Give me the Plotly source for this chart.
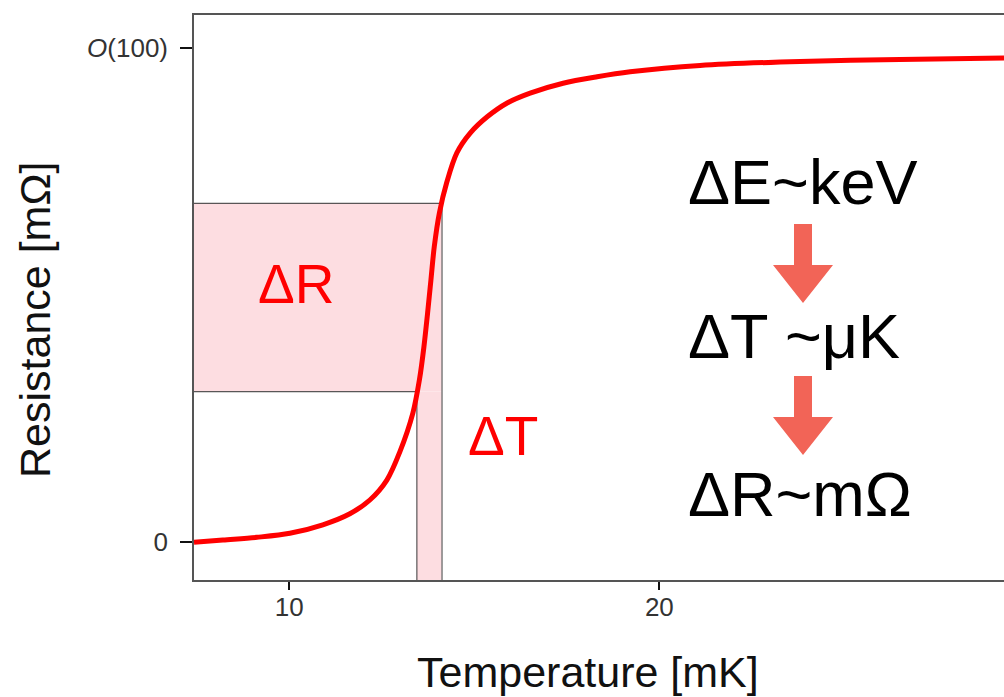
import plotly.graph_objects as go

# ---- data ----
temperature_mk = [7.43, 8.21, 9.13, 10.02, 10.91, 11.64, 12.18, 12.64, 12.99, 13.34,
                  13.52, 13.64, 13.74, 13.83, 13.92, 14.06, 14.26, 14.53, 14.89, 15.35,
                  15.89, 16.51, 17.40, 18.32, 19.21, 21.10, 23.80, 26.50, 29.31]
resistance = [0.0, 0.47, 1.01, 1.82, 3.54, 5.77, 8.56, 12.6, 18.3, 26.1,
              32.9, 39.5, 46.4, 53.1, 59.8, 66.7, 72.9, 78.8, 82.8, 86.1,
              88.9, 90.9, 92.9, 94.2, 95.2, 96.5, 97.3, 97.7, 98.0]

x_tick_vals = [10, 20]
x_tick_text = ["10", "20"]
y_tick_vals = [0, 100]
y_tick_text = ["0", "<i>O</i>(100)"]

delta_r_low, delta_r_high = 30.5, 68.6     # resistance band
delta_t_low, delta_t_high = 13.45, 14.13   # temperature band

chain_labels = ["ΔE~keV", "ΔT ~μK", "ΔR~mΩ"]

# ---- layout constants (screen pixels; page body margin removed below) ----
X_RANGE = [7.43, 29.31]
Y_RANGE = [-7.63, 106.7]
W, H = 1004, 697
P_LEFT, P_RIGHT, P_TOP, P_BOTTOM = 194, 1004, 15, 580   # screen coords of plot area
ML = P_LEFT
MT = P_TOP
MR = W - P_RIGHT
MB = H - P_BOTTOM
PW = P_RIGHT - P_LEFT
PH = P_BOTTOM - P_TOP


def px2x(px):
    return X_RANGE[0] + (px - P_LEFT) / PW * (X_RANGE[1] - X_RANGE[0])


def py2y(py):
    return Y_RANGE[1] - (py - P_TOP) / PH * (Y_RANGE[1] - Y_RANGE[0])


def px2paper(px):
    return (px - P_LEFT) / PW


def py2paper(py):
    return (P_BOTTOM - py) / PH


FILL = "#fddde1"
OUTLINE = dict(color="rgba(60,60,60,0.85)", width=1.2)
ARROW = "#f26457"

fig = go.Figure()
fig.add_trace(go.Scatter(
    x=temperature_mk, y=resistance, mode="lines",
    line=dict(color="#ff0000", width=5, shape="spline", smoothing=0.9),
    hoverinfo="skip", showlegend=False,
))

shapes = []
# filled regions
shapes.append(dict(type="rect", xref="x", yref="y", x0=X_RANGE[0], x1=delta_t_high,
                   y0=delta_r_low, y1=delta_r_high, fillcolor=FILL, line=dict(width=0), layer="below"))
shapes.append(dict(type="rect", xref="x", yref="y", x0=delta_t_low, x1=delta_t_high,
                   y0=Y_RANGE[0], y1=delta_r_low, fillcolor=FILL, line=dict(width=0), layer="below"))
# outlines
shapes.append(dict(type="line", xref="x", yref="y", x0=X_RANGE[0], x1=delta_t_high,
                   y0=delta_r_high, y1=delta_r_high, line=OUTLINE, layer="below"))
shapes.append(dict(type="line", xref="x", yref="y", x0=X_RANGE[0], x1=delta_t_low,
                   y0=delta_r_low, y1=delta_r_low, line=OUTLINE, layer="below"))
shapes.append(dict(type="line", xref="x", yref="y", x0=delta_t_low, x1=delta_t_low,
                   y0=Y_RANGE[0], y1=delta_r_low, line=OUTLINE, layer="below"))
shapes.append(dict(type="line", xref="x", yref="y", x0=delta_t_high, x1=delta_t_high,
                   y0=Y_RANGE[0], y1=delta_r_high, line=dict(color="rgba(120,120,120,0.8)", width=1.8),
                   layer="below"))


# block arrows (screen-pixel geometry converted to data)
def block_arrow(cx, top, join, tip, shaft_hw=9, head_hw=30):
    pts = [(cx - shaft_hw, top), (cx + shaft_hw, top), (cx + shaft_hw, join), (cx + head_hw, join),
           (cx, tip), (cx - head_hw, join), (cx - shaft_hw, join)]
    path = "M " + " L ".join(f"{px2x(a):.4f},{py2y(b):.4f}" for a, b in pts) + " Z"
    return dict(type="path", xref="x", yref="y", path=path, fillcolor=ARROW, line=dict(width=0))


shapes.append(block_arrow(803, 224, 265, 303))
shapes.append(block_arrow(803, 376, 417, 455))

annotations = []
red_font = dict(family="Liberation Sans, Arial, sans-serif", size=55, color="#ff0000")
annotations.append(dict(x=px2x(296), y=py2y(284), xref="x", yref="y", text="ΔR", showarrow=False,
                        font=red_font, xanchor="center", yanchor="middle"))
annotations.append(dict(x=px2x(503), y=py2y(436), xref="x", yref="y", text="ΔT", showarrow=False,
                        font=red_font, xanchor="center", yanchor="middle"))

black_font = dict(family="Liberation Sans, Arial, sans-serif", size=63, color="#000000")
for label, cy in zip(chain_labels, [181.5, 336, 493.5]):
    annotations.append(dict(x=px2x(686), y=py2y(cy), xref="x", yref="y", text=label, showarrow=False,
                            font=black_font, xanchor="left", yanchor="middle"))

title_font = dict(family="Liberation Sans, Arial, sans-serif", size=43, color="#111111")
annotations.append(dict(x=px2paper(588), y=py2paper(672), xref="paper", yref="paper",
                        text="Temperature [mK]", showarrow=False, font=title_font,
                        xanchor="center", yanchor="middle"))
annotations.append(dict(x=px2paper(35), y=py2paper(320), xref="paper", yref="paper",
                        text="Resistance [mΩ]", showarrow=False, font=title_font, textangle=-90,
                        xanchor="center", yanchor="middle"))

tick_font = dict(family="Liberation Sans, Arial, sans-serif", size=26, color="#333333")

fig.update_layout(
    width=W, height=H,
    margin=dict(l=ML, r=MR, t=MT, b=MB, pad=0),
    paper_bgcolor="white", plot_bgcolor="white",
    shapes=shapes, annotations=annotations,
    xaxis=dict(range=X_RANGE, tickmode="array", tickvals=x_tick_vals, ticktext=x_tick_text,
               showgrid=False, zeroline=False, showline=True, linecolor="#555555", linewidth=1.6,
               mirror=True, ticks="outside", ticklen=8, tickwidth=2, tickcolor="#111111",
               tickfont=tick_font, ticklabelstandoff=-5),
    yaxis=dict(range=Y_RANGE, tickmode="array", tickvals=y_tick_vals, ticktext=y_tick_text,
               showgrid=False, zeroline=False, showline=True, linecolor="#555555", linewidth=1.6,
               mirror=False, ticks="outside", ticklen=12, tickwidth=2, tickcolor="#111111",
               tickfont=tick_font, ticklabelstandoff=7),
)

fig.write_html(
    "out.html",
    config={"displayModeBar": False},
    post_script="document.body.style.margin='0px';document.body.style.overflow='hidden';",
)
